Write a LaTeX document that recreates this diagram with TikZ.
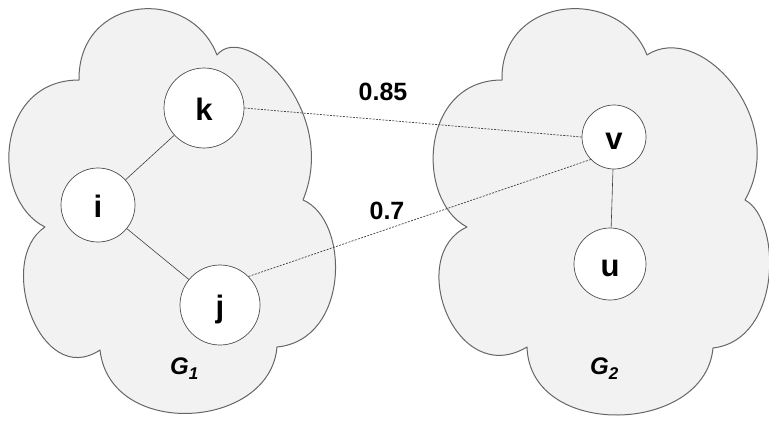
\documentclass[tikz,border=0pt]{standalone}
\usepackage{fontspec}
\setmainfont{Liberation Sans}
\definecolor{cloudfill}{HTML}{F2F2F2}
\definecolor{cloudline}{HTML}{666666}
\tikzset{
  vertex/.style={circle,draw=black!70,fill=white,line width=0.7pt,inner sep=0pt,
    text height=24pt,text depth=0pt,font=\fontsize{31}{34}\selectfont\bfseries},
  graphcloud/.style={draw=cloudline,fill=cloudfill,line width=1pt,line join=round},
  tie/.style={draw=black!75,line width=0.6pt},
  simedge/.style={draw=black!75,line width=0.7pt,dash pattern=on 2pt off 1.3pt},
  weight/.style={font=\fontsize{25}{28}\selectfont\bfseries},
  gname/.style={font=\fontsize{24}{26}\selectfont\bfseries\itshape,inner sep=0pt,anchor=base west}
}
\newcommand{\gsub}[1]{\raisebox{-5pt}{\fontsize{17}{17}\selectfont #1}}

\begin{document}
\begin{tikzpicture}[x=1pt,y=-1pt]
  \useasboundingbox (0,0) rectangle (769,423);

  % the two clouds
  \path[graphcloud] (79,80) .. controls (78,-5) and (190,-15) .. (217,55)
    .. controls (245,20) and (340,110) .. (303,200)
    .. controls (350,220) and (350,340) .. (277,347)
    .. controls (270,430) and (110,440) .. (100,350)
    .. controls (40,390) and (-5,260) .. (45,227)
    .. controls (-10,200) and (-5,80) .. cycle;
  \path[graphcloud] (502,80) .. controls (500,-5) and (620,-15) .. (647,55)
    .. controls (700,20) and (790,120) .. (745,200)
    .. controls (782,220) and (782,340) .. (713,348)
    .. controls (705,435) and (530,440) .. (527,347)
    .. controls (455,390) and (405,255) .. (467,227)
    .. controls (415,200) and (420,80) .. cycle;

  % vertices
  \node[vertex,minimum size=80pt] (k) at (204,108) {k};
  \node[vertex,minimum size=74pt] (i) at (98,205) {i};
  \node[vertex,minimum size=80pt] (j) at (220,305) {j};
  \node[vertex,minimum size=64pt] (v) at (614,137) {v};
  \node[vertex,minimum size=72pt] (u) at (610,264) {u};

  % edges inside each graph
  \draw[tie] (i) -- (k);
  \draw[tie] (i) -- (j);
  \draw[tie] (v) -- (u);

  % similarity links with their weights
  \draw[simedge] (k.east) -- (v.west);
  \draw[simedge] (j.45) -- (v.224);
  \node[weight] (w1) at (383,92) {0.85};
  \node[weight] (w2) at (387,211) {0.7};

  \node[gname] (g1) at (170,374) {G\gsub{1}};
  \node[gname] (g2) at (590,374) {G\gsub{2}};
\end{tikzpicture}
\end{document}
